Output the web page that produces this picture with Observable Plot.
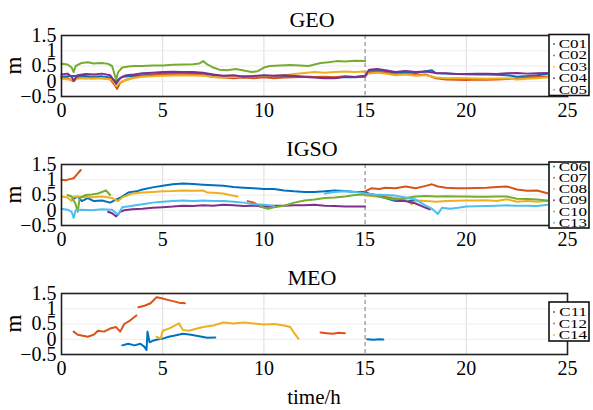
<!DOCTYPE html>
<html><head><meta charset="utf-8">
<script src="https://cdn.jsdelivr.net/npm/d3@7"></script>
<script src="https://cdn.jsdelivr.net/npm/@observablehq/plot@0.6"></script>
<style>
body{margin:0;background:#fff;}
#chart{width:593px;height:410px;overflow:hidden;font-family:'Liberation Serif',serif;}
#chart svg{display:block;}
#chart svg text{font-family:'Liberation Serif',serif !important;}
</style>
</head><body><div id="chart"></div>
<script>
const xTicks = [0, 5, 10, 15, 20, 25];
const yTicks = [-0.5, 0, 0.5, 1, 1.5];
const splitHour = 15;
const colors = ["#0072BD", "#D95319", "#EDB120", "#7E2F8E", "#77AC30", "#4DBEEE"];
const titles = ["GEO", "IGSO", "MEO"];
const xLabel = "time/h";
const yLabel = "m";

// ---- GEO ----
const geoNames = ["C01", "C02", "C03", "C04", "C05"];
const geoC01 = [[0,0.15],[0.5,0.17],[1,0.18],[1.5,0.15],[2,0.16],[2.4,0.12],[2.7,0],[3,0.15],[3.5,0.17],[4,0.2],[4.5,0.22],[5,0.25],[5.5,0.24],[6,0.26],[6.5,0.25],[7,0.25],[7.5,0.2],[8,0.15],[8.5,0.14],[9,0.16],[9.5,0.15],[10,0.18],[10.5,0.16],[11,0.17],[11.5,0.16],[12,0.15],[12.5,0.14],[13,0.13],[13.5,0.12],[14,0.14],[14.5,0.13],[15,0.15],[15.2,0.35],[15.6,0.38],[16,0.33],[16.5,0.28],[17,0.3],[17.5,0.27],[18,0.33],[18.3,0.36],[18.5,0.26],[19,0.25],[19.5,0.24],[20,0.23],[20.5,0.22],[21,0.22],[21.5,0.21],[22,0.2],[22.5,0.15],[23,0.17],[23.5,0.2],[24,0.24]];
const geoC02 = [[0,0.12],[0.3,0.1],[0.6,0.0],[0.8,0.12],[1.2,0.1],[1.6,0.12],[2,0.1],[2.4,0.08],[2.6,-0.1],[2.75,-0.25],[2.9,-0.05],[3.2,0.05],[3.6,0.12],[4,0.18],[4.5,0.2],[5,0.22],[5.5,0.24],[6,0.23],[6.5,0.22],[7,0.2],[7.5,0.14],[8,0.12],[8.5,0.1],[9,0.12],[9.5,0.1],[10,0.13],[10.5,0.1],[11,0.12],[11.5,0.13],[12,0.15],[12.5,0.14],[13,0.15],[13.5,0.13],[14,0.16],[14.5,0.14],[15,0.17],[15.2,0.3],[15.6,0.32],[16,0.28],[16.5,0.22],[17,0.25],[17.5,0.2],[18,0.22],[18.5,0.1],[19,0.06],[19.5,0.05],[20,0.04],[20.5,0.06],[21,0.05],[21.5,0.06],[22,0.07],[22.5,0.1],[23,0.12],[23.5,0.14],[24,0.15]];
const geoC03 = [[0,0.08],[0.5,0.05],[1,0.1],[1.5,0.08],[2,0.1],[2.5,0.05],[2.7,-0.15],[3,0.0],[3.5,0.1],[4,0.15],[4.5,0.16],[5,0.18],[5.5,0.19],[6,0.2],[6.5,0.19],[7,0.18],[7.5,0.14],[8,0.12],[8.5,0.14],[9,0.15],[9.5,0.16],[10,0.17],[10.5,0.18],[11,0.2],[11.5,0.24],[12,0.27],[12.5,0.3],[13,0.28],[13.5,0.3],[14,0.32],[14.5,0.3],[15,0.32],[15.2,0.25],[15.6,0.28],[16,0.25],[16.5,0.2],[17,0.22],[17.5,0.18],[18,0.2],[18.5,0.12],[19,0.1],[19.5,0.11],[20,0.1],[20.5,0.09],[21,0.08],[21.5,0.09],[22,0.1],[22.5,0.06],[23,0.08],[23.5,0.1],[24,0.12]];
const geoC04 = [[0,0.22],[0.3,0.25],[0.5,0.15],[0.6,0.02],[0.8,0.2],[1.2,0.24],[1.6,0.22],[2,0.25],[2.4,0.2],[2.7,-0.08],[2.9,0.1],[3.2,0.2],[3.6,0.22],[4,0.26],[4.5,0.28],[5,0.3],[5.5,0.31],[6,0.3],[6.5,0.3],[7,0.28],[7.5,0.22],[8,0.18],[8.5,0.2],[9,0.15],[9.5,0.17],[10,0.2],[10.5,0.18],[11,0.2],[11.5,0.17],[12,0.14],[12.5,0.12],[13,0.1],[13.5,0.1],[14,0.15],[14.5,0.14],[15,0.18],[15.2,0.38],[15.6,0.4],[16,0.36],[16.5,0.3],[17,0.34],[17.5,0.3],[18,0.32],[18.5,0.27],[19,0.26],[19.5,0.24],[20,0.24],[20.5,0.25],[21,0.25],[21.5,0.24],[22,0.26],[22.5,0.27],[23,0.25],[23.5,0.26],[24,0.27]];
const geoC05 = [[0,0.57],[0.3,0.55],[0.5,0.45],[0.6,0.3],[0.7,0.5],[1,0.6],[1.3,0.62],[1.6,0.58],[2,0.6],[2.3,0.57],[2.5,0.5],[2.7,0.05],[2.8,0.3],[3,0.45],[3.3,0.48],[3.6,0.5],[4,0.5],[4.5,0.52],[5,0.52],[5.5,0.54],[6,0.55],[6.5,0.56],[6.8,0.58],[7,0.66],[7.2,0.55],[7.5,0.45],[7.8,0.38],[8.2,0.36],[8.6,0.4],[9,0.35],[9.4,0.3],[9.7,0.33],[10,0.45],[10.3,0.5],[10.8,0.52],[11.3,0.53],[11.8,0.52],[12.2,0.5],[12.5,0.55],[12.8,0.6],[13.2,0.62],[13.6,0.66],[14,0.65],[14.5,0.67],[15,0.66]];

// ---- IGSO ----
const igsoNames = ["C06", "C07", "C08", "C09", "C10", "C13"];
const igsoC06 = [[0.5,0.35],[0.8,0.45],[1,0.3],[1.3,0.4],[1.6,0.3],[2,0.32],[2.4,0.25],[2.7,0.35],[3,0.45],[3.3,0.58],[3.7,0.62],[4,0.68],[4.5,0.75],[5,0.8],[5.5,0.85],[6,0.88],[6.5,0.86],[7,0.84],[7.5,0.82],[8,0.8],[8.5,0.76],[9,0.74],[9.5,0.72],[10,0.7],[10.5,0.7],[11,0.65],[11.5,0.62],[12,0.6],[12.5,0.6],[13,0.62],[13.5,0.65],[14,0.63],[14.5,0.6],[15,0.6],[15.3,0.5],[15.7,0.45],[16,0.4],[16.5,0.3],[17,0.3],[17.5,0.32]];
const igsoC07 = [[0,1.0],[0.2,0.98],[0.4,1.02],[0.6,1.05],[0.8,1.2],[0.95,1.32],[1.0,null],[9.2,0.3],[9.5,0.25],[9.8,0.12],[10.1,0.1],[10.4,0.12],[10.5,null],[15,0.62],[15.3,0.72],[15.7,0.7],[16,0.74],[16.5,0.72],[17,0.78],[17.5,0.72],[18,0.8],[18.3,0.85],[18.6,0.78],[19,0.74],[19.5,0.72],[20,0.72],[20.5,0.73],[21,0.74],[21.5,0.76],[22,0.78],[22.5,0.68],[23,0.64],[23.5,0.65],[24,0.56]];
const igsoC08 = [[0,0.45],[0.3,0.42],[0.5,0.3],[0.6,0.45],[1,0.44],[1.5,0.43],[2,0.45],[2.5,0.4],[2.8,0.3],[3,0.42],[3.5,0.55],[4,0.58],[4.5,0.6],[5,0.62],[5.5,0.63],[6,0.65],[6.5,0.64],[7,0.65],[7.2,0.58],[7.5,0.57],[8,0.55],[8.3,0.5],[8.7,0.45],[8.8,null],[15,0.48],[15.5,0.45],[16,0.44],[16.5,0.4],[17,0.35],[17.3,0.2],[17.5,0.32],[18,0.3],[18.5,0.28],[19,0.3],[19.5,0.31],[20,0.32],[20.5,0.32],[21,0.33],[21.5,0.3],[22,0.36],[22.5,0.28],[23,0.3],[23.5,0.28],[24,0.3]];
const igsoC09 = [[2.3,-0.05],[2.5,-0.1],[2.7,-0.2],[2.9,-0.05],[3.1,0.0],[3.5,0.03],[4,0.05],[4.5,0.08],[5,0.1],[5.5,0.12],[6,0.15],[6.5,0.14],[7,0.16],[7.5,0.15],[8,0.18],[8.5,0.16],[9,0.14],[9.5,0.15],[10,0.13],[10.5,0.15],[11,0.15],[11.5,0.16],[12,0.16],[12.5,0.18],[13,0.15],[13.5,0.14],[14,0.12],[14.5,0.12],[15,0.12],[15.05,null],[15.1,0.55],[15.5,0.5],[16,0.42],[16.5,0.35],[17,0.3],[17.5,0.22],[18,0.08],[18.2,0.03]];
const igsoC10 = [[0.3,0.5],[0.5,0.45],[0.7,0.2],[0.8,-0.05],[0.9,0.4],[1.2,0.5],[1.5,0.52],[1.8,0.55],[2,0.6],[2.2,0.65],[2.4,0.5],[2.5,null],[9.8,0.12],[10.2,0.05],[10.5,0.1],[11,0.15],[11.5,0.25],[12,0.32],[12.5,0.35],[13,0.4],[13.5,0.42],[14,0.45],[14.5,0.5],[15,0.52],[15.5,0.48],[16,0.4],[16.5,0.35],[17,0.4],[17.5,0.45],[18,0.47],[18.5,0.45],[19,0.46],[19.5,0.45],[20,0.45],[20.5,0.44],[21,0.44],[21.5,0.45],[22,0.45],[22.5,0.38],[23,0.37],[23.5,0.35],[24,0.32]];
const igsoC13 = [[0,0.05],[0.3,0.02],[0.5,-0.05],[0.6,-0.25],[0.7,0.0],[1,0.02],[1.5,0.0],[2,0.03],[2.5,0.02],[2.8,-0.15],[3,0.1],[3.5,0.15],[4,0.2],[4.5,0.25],[5,0.28],[5.5,0.3],[6,0.32],[6.5,0.3],[7,0.32],[7.5,0.3],[8,0.3],[8.5,0.28],[9,0.25],[9.5,0.2],[10,0.18],[10.5,0.15],[10.6,null],[13,0.55],[13.5,0.6],[14,0.62],[14.5,0.6],[15,0.55],[15.5,0.52],[16,0.5],[16.5,0.48],[17,0.42],[17.5,0.35],[18,0.15],[18.3,0.05],[18.6,-0.12],[18.8,0.08],[19.2,0.05],[19.6,0.08],[20,0.12],[20.5,0.13],[21,0.14],[21.5,0.15],[22,0.16],[22.5,0.15],[23,0.15],[23.5,0.14],[24,0.18]];

// ---- MEO ----
const meoNames = ["C11", "C12", "C14"];
const meoC11 = [[3,-0.2],[3.3,-0.15],[3.6,-0.2],[3.9,-0.15],[4.1,-0.25],[4.2,-0.35],[4.25,0.25],[4.35,-0.1],[4.5,-0.05],[4.8,0.0],[5,0.02],[5.3,0.08],[5.6,0.12],[6,0.18],[6.4,0.15],[6.8,0.1],[7.2,0.05],[7.6,0.06],[7.7,null],[15.1,0.0],[15.4,-0.02],[15.7,0.0],[15.9,-0.01]];
const meoC12 = [[0.6,0.25],[0.8,0.15],[1,0.12],[1.3,0.08],[1.6,0.15],[1.8,0.28],[2.1,0.25],[2.4,0.35],[2.7,0.4],[2.9,0.25],[3.1,0.5],[3.4,0.62],[3.7,0.78],[3.75,null],[3.8,1.05],[4.1,1.1],[4.4,1.18],[4.7,1.38],[4.9,1.35],[5.2,1.3],[5.5,1.25],[5.8,1.2],[6.1,1.18],[6.2,null],[12.8,0.22],[13.1,0.2],[13.4,0.18],[13.7,0.21],[14,0.2]];
const meoC14 = [[4.7,0.08],[4.9,0.02],[5,0.28],[5.3,0.35],[5.6,0.45],[5.8,0.52],[6,0.3],[6.3,0.28],[6.7,0.35],[7,0.4],[7.5,0.45],[8,0.55],[8.5,0.52],[9,0.55],[9.5,0.52],[10,0.48],[10.5,0.5],[11,0.45],[11.3,0.4],[11.5,0.2],[11.7,0.02]];

const panels = [
  {title: titles[0], names: geoNames, series: [geoC01, geoC02, geoC03, geoC04, geoC05], colors: colors.slice(0,5), height: 129,
   legend: {top: 34.5, bottom: 95.5, base: 48, step: 11.4}},
  {title: titles[1], names: igsoNames, series: [igsoC06, igsoC07, igsoC08, igsoC09, igsoC10, igsoC13], colors: colors, height: 129,
   legend: {top: 33, bottom: 99, base: 41.5, step: 11.25}},
  {title: titles[2], names: meoNames, series: [meoC11, meoC12, meoC14], colors: colors.slice(0,3), height: 152, xlabel: xLabel,
   legend: {top: 44, bottom: 83, base: 58, step: 11.5}}
];

const fmt = d => d < 0 ? "\u2212" + Math.abs(d) : String(d);
const font = "'Liberation Serif', serif";

for (const p of panels) {
  const rows = [];
  p.names.forEach((n, i) => p.series[i].forEach(([t, v]) => rows.push({sat: n, t, v: v == null ? NaN : v})));
  const fig = Plot.plot({
    width: 593, height: p.height,
    marginTop: 35, marginBottom: p.height - 96, marginLeft: 61, marginRight: 26,
    style: {fontFamily: font, fontSize: "20px", color: "#000", background: "#fff", overflow: "visible"},
    x: {domain: [0, 25], label: null},
    y: {domain: [-0.5, 1.5], label: null},
    color: {domain: p.names, range: p.colors},
    marks: [
      Plot.gridX(xTicks.filter(d => d !== splitHour), {stroke: "#dcdcdc", strokeOpacity: 1}),
      Plot.gridY(yTicks, {stroke: "#ececec", strokeOpacity: 1}),
      Plot.ruleX([splitHour], {stroke: "#7a7a7a", strokeDasharray: "4,3", strokeWidth: 1}),
      Plot.lineY(rows, {x: "t", y: "v", z: "sat", stroke: "sat", strokeWidth: 2, curve: "linear"}),
      Plot.frame({stroke: "#222", strokeWidth: 1.6}),
      Plot.axisX(xTicks, {tickSize: 0, tickPadding: 6, tickFormat: fmt, fontSize: 20}),
      Plot.axisY(yTicks, {tickSize: 0, tickPadding: 5, tickFormat: fmt, fontSize: 20})
    ]
  });
  const svg = d3.select(fig);
  svg.append("text").attr("x", 312).attr("y", 27).attr("text-anchor", "middle")
    .attr("font-size", 22).text(p.title);
  svg.append("text").attr("transform", "translate(21,65.5) rotate(-90)").attr("text-anchor", "middle")
    .attr("font-size", 23).text(yLabel);
  if (p.xlabel) {
    svg.append("text").attr("x", 314).attr("y", 146).attr("text-anchor", "middle")
      .attr("font-size", 21).text(p.xlabel);
  }
  const L = p.legend;
  const g = svg.append("g");
  g.append("rect").attr("x", 549).attr("y", L.top).attr("width", 40).attr("height", L.bottom - L.top)
    .attr("fill", "#fff").attr("stroke", "#111").attr("stroke-width", 1.6);
  p.names.forEach((n, i) => {
    const yb = L.base + i * L.step;
    g.append("circle").attr("cx", 554).attr("cy", yb - 4).attr("r", 0.9).attr("fill", p.colors[i]);
    g.append("text").attr("transform", `translate(587,${yb}) scale(1,0.72)`).attr("text-anchor", "end")
      .attr("font-size", 17).text(n);
  });
  document.getElementById("chart").appendChild(fig);
}
</script>
</body></html>
